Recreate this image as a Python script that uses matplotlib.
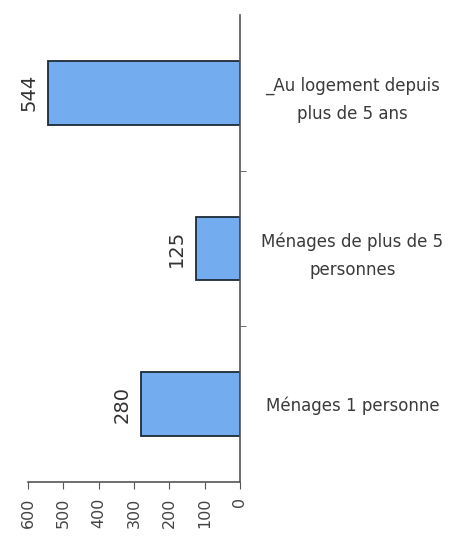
import matplotlib
matplotlib.use("Agg")
import matplotlib.pyplot as plt
import numpy as np

categories = ["Ménages 1 personne", "Ménages de plus de 5\npersonnes", "_Au logement depuis\nplus de 5 ans"]
values = [280, 125, 544]
xticks = [0, 100, 200, 300, 400, 500, 600]

fig = plt.figure(figsize=(4.56, 5.38), dpi=100)
ax = fig.add_axes([28/456, 1-482/538, (240-28)/456, (482-15)/538])

y = np.arange(len(categories))
bars = ax.barh(y, values, height=0.41, color="#74adef", edgecolor="#1e2a38", linewidth=1.3)
ax.set_xlim(600, 0)
ax.set_ylim(-0.5, len(categories)-0.5)

ax.set_xticks(xticks)
ax.set_xticklabels([str(t) for t in xticks], rotation=90, fontsize=11.5, color="#444444")
ax.tick_params(axis="x", direction="out", length=5, color="#555555", pad=6)

ax.yaxis.tick_right()
ax.set_yticks(y)
ax.set_yticklabels(categories, fontsize=12, color="#3a3a3a", ha="center",
                   multialignment="center", linespacing=1.75)
ax.tick_params(axis="y", which="major", length=0, pad=81)
ax.set_yticks(np.arange(len(categories)-1)+0.5, minor=True)
ax.tick_params(axis="y", which="minor", length=4, color="#555555", direction="out")

for s in ["left", "top"]:
    ax.spines[s].set_visible(False)
for s in ["right", "bottom"]:
    ax.spines[s].set_color("#555555")
    ax.spines[s].set_linewidth(1.2)

ax.bar_label(bars, labels=[str(v) for v in values], rotation=90, fontsize=14,
             padding=7, color="#333333")

fig.savefig("out.png", dpi=100)
